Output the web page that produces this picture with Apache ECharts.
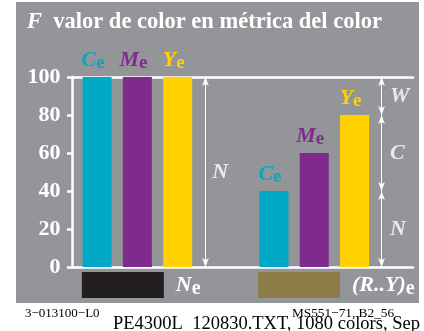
<!DOCTYPE html>
<html>
<head>
<meta charset="utf-8">
<script src="https://cdn.jsdelivr.net/npm/echarts@6/dist/echarts.min.js"></script>
<style>
  html, body { margin: 0; padding: 0; background: #ffffff; }
  #chart { width: 424px; height: 331px; }
</style>
</head>
<body>
<div id="chart"></div>
<script>
// Colour values of the three inks: black group (N) and colour group (R..Y)
const groups = ['Ne', '(R..Y)e'];
const inks = ['C', 'M', 'Y'];
const cyanValues = [100, 40];
const magentaValues = [100, 60];
const yellowValues = [100, 80];
const yTickValues = [0, 20, 40, 60, 80, 100];

// Arrow annotations: [from, to, label]
const leftArrow = [0, 100];
const leftArrowLabel = 'N';
const rightSegments = [[80, 100], [40, 80], [0, 40]];
const rightLabels = ['W', 'C', 'N'];

const serif = '"Liberation Serif", "Times New Roman", serif';
const inkColor = { C: '#00a9c6', M: '#7f2a8c', Y: '#ffd200' };
const swatchColor = ['#231f20', '#8c7d48'];
const white = '#ffffff';

// layout on the hidden value x axis (1 unit = one bar pitch)
const xMax = 8.45;
const groupStart = [0.61, 5.0];
const swatchCenter = [1.25, 5.62];
const leftArrowX = 3.3, leftLabelX = 3.47;
const rightArrowX = 7.67, rightLabelX = 7.88;

const inkValues = { C: cyanValues, M: magentaValues, Y: yellowValues };

function inkRich() {
  const rich = {};
  inks.forEach(k => {
    rich[k + 'i'] = { fontFamily: serif, fontStyle: 'italic', fontWeight: 'bold', fontSize: 22, color: inkColor[k] };
    rich[k + 's'] = { fontFamily: serif, fontWeight: 'bold', fontSize: 19, color: inkColor[k], padding: [7, 0, 0, 0] };
  });
  return rich;
}

const barData = [];
groups.forEach((g, gi) => {
  inks.forEach((k, ki) => {
    barData.push({
      value: [groupStart[gi] + ki, inkValues[k][gi]],
      itemStyle: { color: inkColor[k] },
      label: { formatter: '{' + k + 'i|' + k + '}{' + k + 's|e}' }
    });
  });
});

const swatchData = groups.map((g, gi) => ({
  value: [swatchCenter[gi], 1],
  itemStyle: { color: swatchColor[gi] },
  label: { formatter: gi === 0 ? '{i|N}{s|e}' : '{i|(R..Y)}{s|e}' }
}));

const arrowLines = [
  [{ coord: [leftArrowX, leftArrow[0]] }, { coord: [leftArrowX, leftArrow[1]] }]
].concat(rightSegments.map(s => [{ coord: [rightArrowX, s[0]] }, { coord: [rightArrowX, s[1]] }]));

const labelPoints = [
  { value: [leftLabelX, (leftArrow[0] + leftArrow[1]) / 2], name: leftArrowLabel }
].concat(rightSegments.map((s, i) => ({ value: [rightLabelX, (s[0] + s[1]) / 2], name: rightLabels[i] })));

const chart = echarts.init(document.getElementById('chart'), null, { renderer: 'canvas' });

chart.setOption({
  animation: false,
  backgroundColor: '#ffffff',
  title: {
    left: 22, top: 6,
    text: '{f|F}{t|  valor de color en métrica del color}',
    textStyle: {
      rich: {
        f: { fontFamily: serif, fontStyle: 'italic', fontWeight: 'bold', fontSize: 22.5, color: white },
        t: { fontFamily: serif, fontWeight: 'bold', fontSize: 22.5, color: white }
      }
    }
  },
  graphic: [
    { type: 'rect', z: -10, silent: true, shape: { x: 16, y: 2, width: 403, height: 301 }, style: { fill: '#939598' } },
    { type: 'text', silent: true, left: 25, top: 307, style: { text: '3−013100−L0', font: '13px ' + serif, fill: '#000' } },
    { type: 'text', silent: true, left: 292, top: 307, style: { text: 'MS551−71, B2_56', font: '13.3px ' + serif, fill: '#000' } },
    { type: 'text', silent: true, left: 113, top: 314.5, style: { text: 'PE4300L  120830.TXT, 1080 colors, Sep', font: '18.5px ' + serif, fill: '#000' } }
  ],
  grid: [
    { left: 72.5, right: 11, top: 77, bottom: 64 },
    { left: 72.5, right: 11, top: 272, height: 26 }
  ],
  xAxis: [
    { type: 'value', gridIndex: 0, min: 0, max: xMax, position: 'bottom',
      axisLine: { show: true, onZero: false, lineStyle: { color: white, width: 2.5 } },
      axisTick: { show: false }, axisLabel: { show: false }, splitLine: { show: false } },
    { type: 'value', gridIndex: 0, min: 0, max: xMax, position: 'top',
      axisLine: { show: true, onZero: false, lineStyle: { color: white, width: 2.5 } },
      axisTick: { show: false }, axisLabel: { show: false }, splitLine: { show: false } },
    { type: 'value', gridIndex: 1, min: 0, max: xMax, show: false }
  ],
  yAxis: [
    { type: 'value', gridIndex: 0, min: yTickValues[0], max: yTickValues[yTickValues.length - 1], interval: 20,
      axisLine: { show: true, lineStyle: { color: white, width: 2.5 } },
      axisTick: { show: true, inside: false, length: 4.5, lineStyle: { color: white, width: 2.5 } },
      axisLabel: { margin: 12, color: white, fontFamily: serif, fontWeight: 'bold', fontSize: 22 },
      splitLine: { show: false } },
    { type: 'value', gridIndex: 0, min: yTickValues[0], max: yTickValues[yTickValues.length - 1], interval: 20,
      axisLine: { show: false },
      axisTick: { show: true, inside: true, length: 5.5, lineStyle: { color: white, width: 2.5 } },
      axisLabel: { show: false }, splitLine: { show: false } },
    { type: 'value', gridIndex: 1, min: 0, max: 1, show: false }
  ],
  series: [
    {
      type: 'bar', xAxisIndex: 0, yAxisIndex: 0, barWidth: 29, data: barData,
      label: { show: true, position: 'top', distance: 4, offset: [-4, 0], rich: inkRich() }
    },
    {
      type: 'bar', xAxisIndex: 2, yAxisIndex: 2, barWidth: 82, data: swatchData,
      label: {
        show: true, position: 'right', distance: 12,
        rich: {
          i: { fontFamily: serif, fontStyle: 'italic', fontWeight: 'bold', fontSize: 22, color: white },
          s: { fontFamily: serif, fontWeight: 'bold', fontSize: 20, color: white, padding: [7, 0, 0, 0] }
        }
      }
    },
    {
      type: 'scatter', xAxisIndex: 0, yAxisIndex: 0, symbolSize: 0, data: labelPoints,
      label: {
        show: true, position: 'right', distance: 0, formatter: p => p.name,
        fontFamily: serif, fontStyle: 'italic', fontWeight: 'bold', fontSize: 22, color: white
      },
      markLine: {
        silent: true, symbol: ['arrow', 'arrow'], symbolSize: [5, 9],
        label: { show: false },
        lineStyle: { color: white, width: 1, type: 'solid' },
        data: arrowLines
      }
    }
  ]
});
</script>
</body>
</html>
